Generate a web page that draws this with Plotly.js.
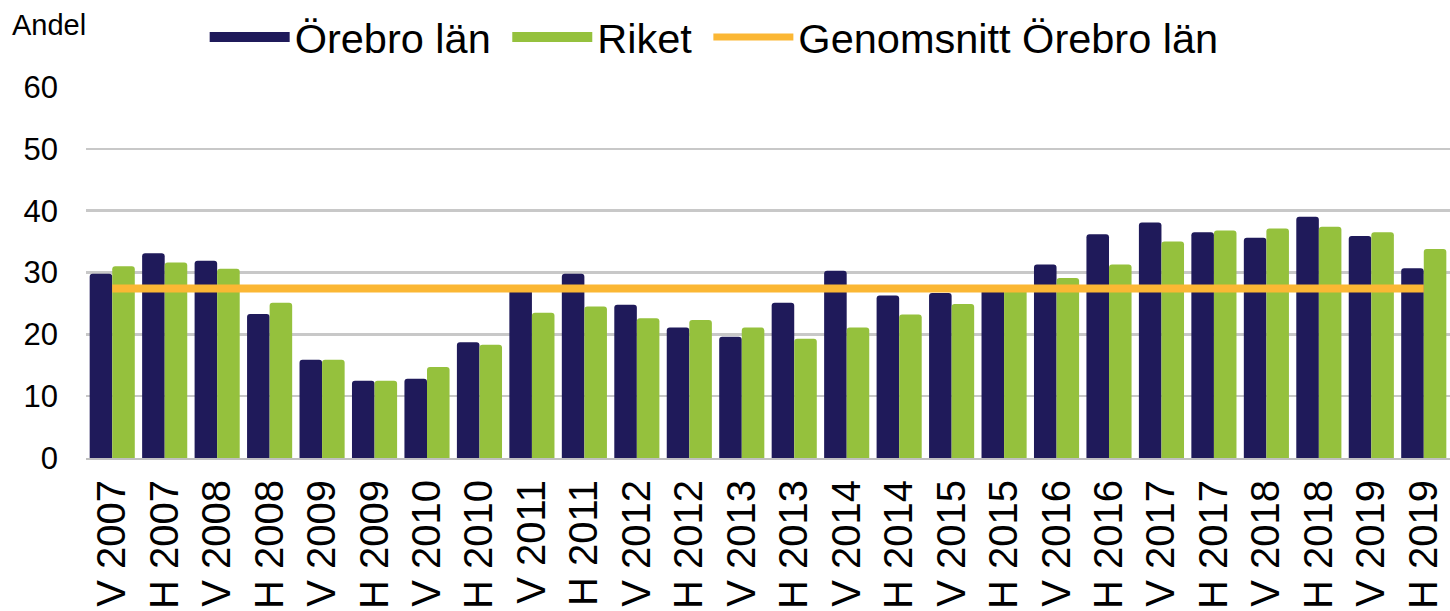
<!DOCTYPE html>
<html>
<head>
<meta charset="utf-8">
<script src="https://cdn.plot.ly/plotly-3.0.1.min.js"></script>
<style>html,body{margin:0;padding:0;background:#fff;}#chart{width:1450px;height:611px;}</style>
</head>
<body>
<div id="chart"></div>
<script>
var categories = ["V 2007","H 2007","V 2008","H 2008","V 2009","H 2009","V 2010","H 2010","V 2011","H 2011","V 2012","H 2012","V 2013","H 2013","V 2014","H 2014","V 2015","H 2015","V 2016","H 2016","V 2017","H 2017","V 2018","H 2018","V 2019","H 2019"];
var orebro = [29.8,33.1,31.9,23.3,15.9,12.5,12.8,18.7,27.5,29.8,24.8,21.1,19.6,25.1,30.3,26.3,26.7,27.6,31.3,36.2,38.1,36.5,35.6,39.0,35.9,30.7];
var riket  = [31.0,31.6,30.6,25.1,15.9,12.5,14.7,18.3,23.5,24.5,22.6,22.3,21.1,19.3,21.1,23.2,24.9,27.9,29.1,31.3,35.0,36.8,37.1,37.4,36.5,33.8];
var genomsnitt = [27.4,27.4,27.4,27.4,27.4,27.4,27.4,27.4,27.4,27.4,27.4,27.4,27.4,27.4,27.4,27.4,27.4,27.4,27.4,27.4,27.4,27.4,27.4,27.4,27.4,27.4];
var yTicks = [0,10,20,30,40,50,60];

var navy = '#1f1a5a', green = '#95c13d', orange = '#fbb734';
var font = 'Liberation Sans, Arial, sans-serif';
var pad = '\u00a0';

var traces = [
  {type:'bar', x:categories, y:orebro, name:'Örebro län', marker:{color:navy, cornerradius:3}, showlegend:false, legendgroup:'a'},
  {type:'bar', x:categories, y:riket, name:'Riket', marker:{color:green, cornerradius:3}, showlegend:false, legendgroup:'b'},
  {type:'scatter', mode:'lines', x:categories, y:genomsnitt, name:'Genomsnitt Örebro län', line:{color:orange, width:8}, showlegend:false, legendgroup:'c'},
  {type:'scatter', mode:'lines', x:[null], y:[null], name:'Örebro län' + pad, line:{color:navy, width:25}, legendgroup:'a', hoverinfo:'skip'},
  {type:'scatter', mode:'lines', x:[null], y:[null], name:'Riket' + pad, line:{color:green, width:25}, legendgroup:'b', hoverinfo:'skip'},
  {type:'scatter', mode:'lines', x:[null], y:[null], name:'Genomsnitt Örebro län', line:{color:orange, width:7}, legendgroup:'c', hoverinfo:'skip'}
];

var layout = {
  width:1450, height:611,
  margin:{l:86, r:0, t:87, b:153},
  paper_bgcolor:'#fff', plot_bgcolor:'#fff',
  font:{family:font, color:'#000'},
  barmode:'group', bargap:0.14, bargroupgap:0,
  showlegend:true,
  legend:{orientation:'h', x:0.087, xanchor:'left', y:1.225, yanchor:'top', font:{size:41.5, family:font}, itemwidth:80, tracegroupgap:0, traceorder:'normal', bgcolor:'rgba(0,0,0,0)'},
  xaxis:{type:'category', range:[-0.5, categories.length - 0.5], tickangle:-90, tickfont:{size:40, family:font}, ticklabelstandoff:4, showline:true, linecolor:'#bfbfbf', linewidth:2, ticks:'', showgrid:false, automargin:false},
  yaxis:{range:[0,60], tickvals:yTicks, tickfont:{size:31, family:font}, ticklabelstandoff:27, gridcolor:'#c8c8c8', gridwidth:2.5, zeroline:false, showline:false, ticks:'', ticklen:0, automargin:false},
  annotations:[{text:'Andel', xref:'paper', yref:'paper', x:-0.0555, y:1.167, xanchor:'left', yanchor:'middle', showarrow:false, font:{size:29, family:font}}]
};

Plotly.newPlot('chart', traces, layout, {displayModeBar:false, staticPlot:true});
</script>
</body>
</html>
